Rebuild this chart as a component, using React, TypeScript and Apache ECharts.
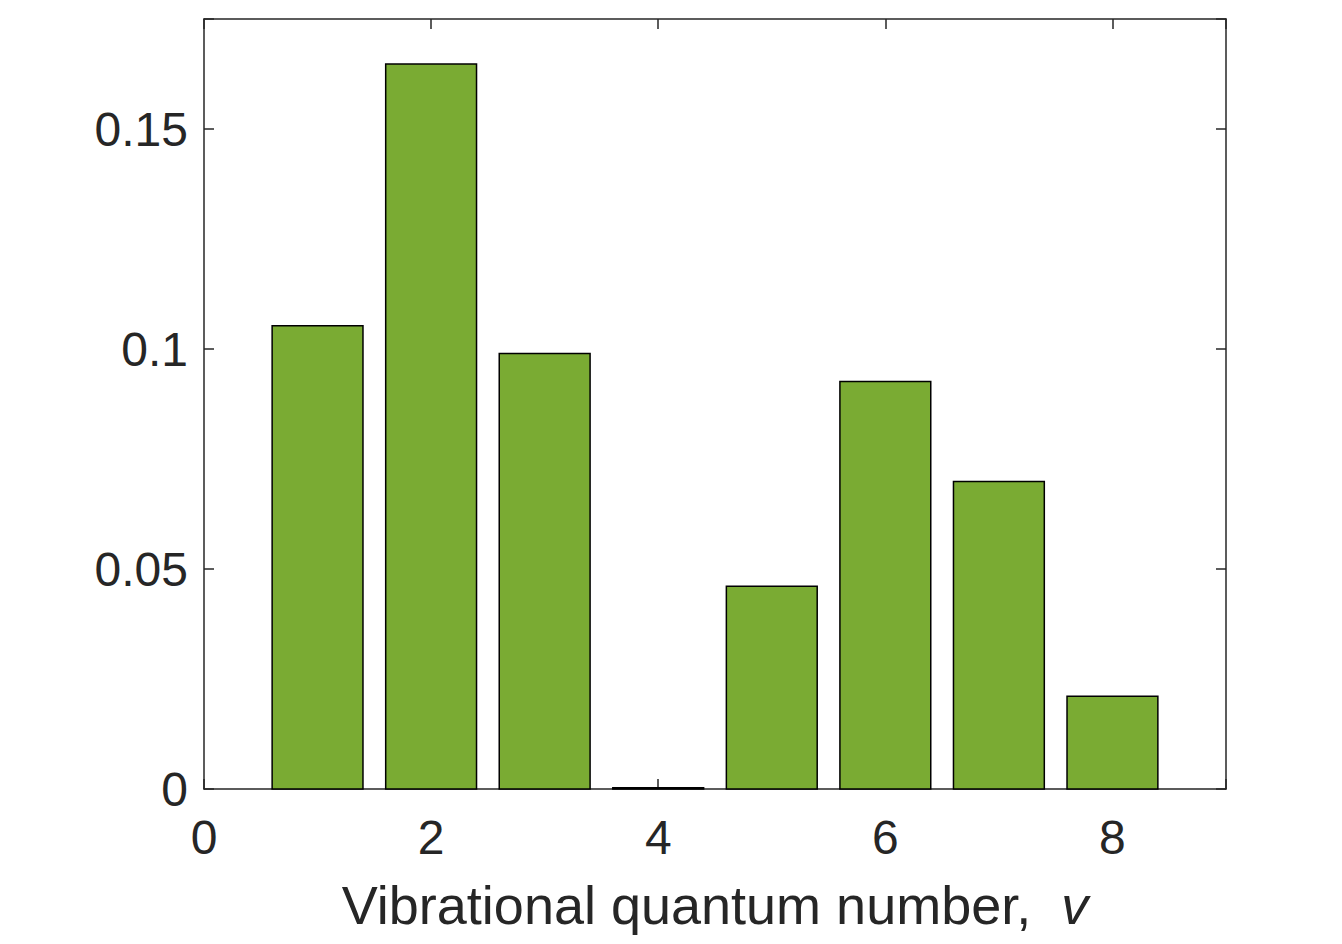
import React, { useEffect, useRef } from "react";
import * as echarts from "echarts";

const vibrationalLevels = [1, 2, 3, 4, 5, 6, 7, 8];
const populations = [0.1053, 0.1648, 0.099, 0.0003, 0.0461, 0.0926, 0.0699, 0.0211];
const xTicks = [0, 2, 4, 6, 8];
const yTicks = [0, 0.05, 0.1, 0.15];

const FONT = "'Liberation Sans', Arial, sans-serif";
const INK = "#262626";
const BAR = "#7aab33";
const HALF_W = 0.4;

export default function App() {
  const ref = useRef<HTMLDivElement>(null);
  useEffect(() => {
    if (!ref.current) return;
    const chart = echarts.init(ref.current, undefined, { renderer: "svg" });
    const line = { show: true, onZero: false, lineStyle: { color: INK, width: 1.5 } };
    const tick = { show: true, inside: true, length: 10, lineStyle: { color: INK, width: 1.5 } };
    const label = { fontFamily: FONT, fontSize: 48, color: INK };
    chart.setOption({
      animation: false,
      backgroundColor: "#ffffff",
      grid: { left: 204, top: 19, right: 116, bottom: 155, containLabel: false },
      xAxis: [
        {
          type: "value",
          min: 0,
          max: 9,
          interval: 2,
          position: "bottom",
          axisLine: line,
          axisTick: tick,
          splitLine: { show: false },
          axisLabel: { ...label, margin: 24, formatter: (v: number) => (xTicks.includes(v) ? String(v) : "") },
          name: "{a|Vibrational quantum number,  }{b|v}",
          nameLocation: "middle",
          nameGap: 89,
          nameTextStyle: {
            rich: {
              a: { fontFamily: FONT, fontSize: 54, color: INK },
              b: { fontFamily: FONT, fontSize: 54, color: INK, fontStyle: "italic" },
            },
          },
        },
        {
          type: "value",
          min: 0,
          max: 9,
          interval: 2,
          position: "top",
          axisLine: line,
          axisTick: tick,
          axisLabel: { show: false },
          splitLine: { show: false },
        },
      ],
      yAxis: [
        {
          type: "value",
          min: 0,
          max: 0.175,
          interval: 0.05,
          position: "left",
          axisLine: line,
          axisTick: tick,
          splitLine: { show: false },
          axisLabel: {
            ...label,
            margin: 16,
            formatter: (v: number) => (yTicks.some((t) => Math.abs(t - v) < 1e-9) ? String(+v.toFixed(2)) : ""),
          },
        },
        {
          type: "value",
          min: 0,
          max: 0.175,
          interval: 0.05,
          position: "right",
          axisLine: line,
          axisTick: tick,
          axisLabel: { show: false },
          splitLine: { show: false },
        },
      ],
      series: [
        {
          type: "custom",
          xAxisIndex: 0,
          yAxisIndex: 0,
          z: 5,
          data: vibrationalLevels.map((v, i) => [v, populations[i]]),
          renderItem: (_params: any, api: any) => {
            const x = api.value(0);
            const y = api.value(1);
            const p0 = api.coord([x - HALF_W, 0]);
            const p1 = api.coord([x + HALF_W, y]);
            return {
              type: "rect",
              shape: { x: p0[0], y: p1[1], width: p1[0] - p0[0], height: p0[1] - p1[1] },
              style: { fill: BAR, stroke: "#000000", lineWidth: 1.5 },
            };
          },
        },
      ],
    });
    return () => chart.dispose();
  }, []);
  return (
    <div
      ref={ref}
      style={{ position: "fixed", left: 0, top: 0, width: 1342, height: 944, background: "#fff" }}
    />
  );
}
